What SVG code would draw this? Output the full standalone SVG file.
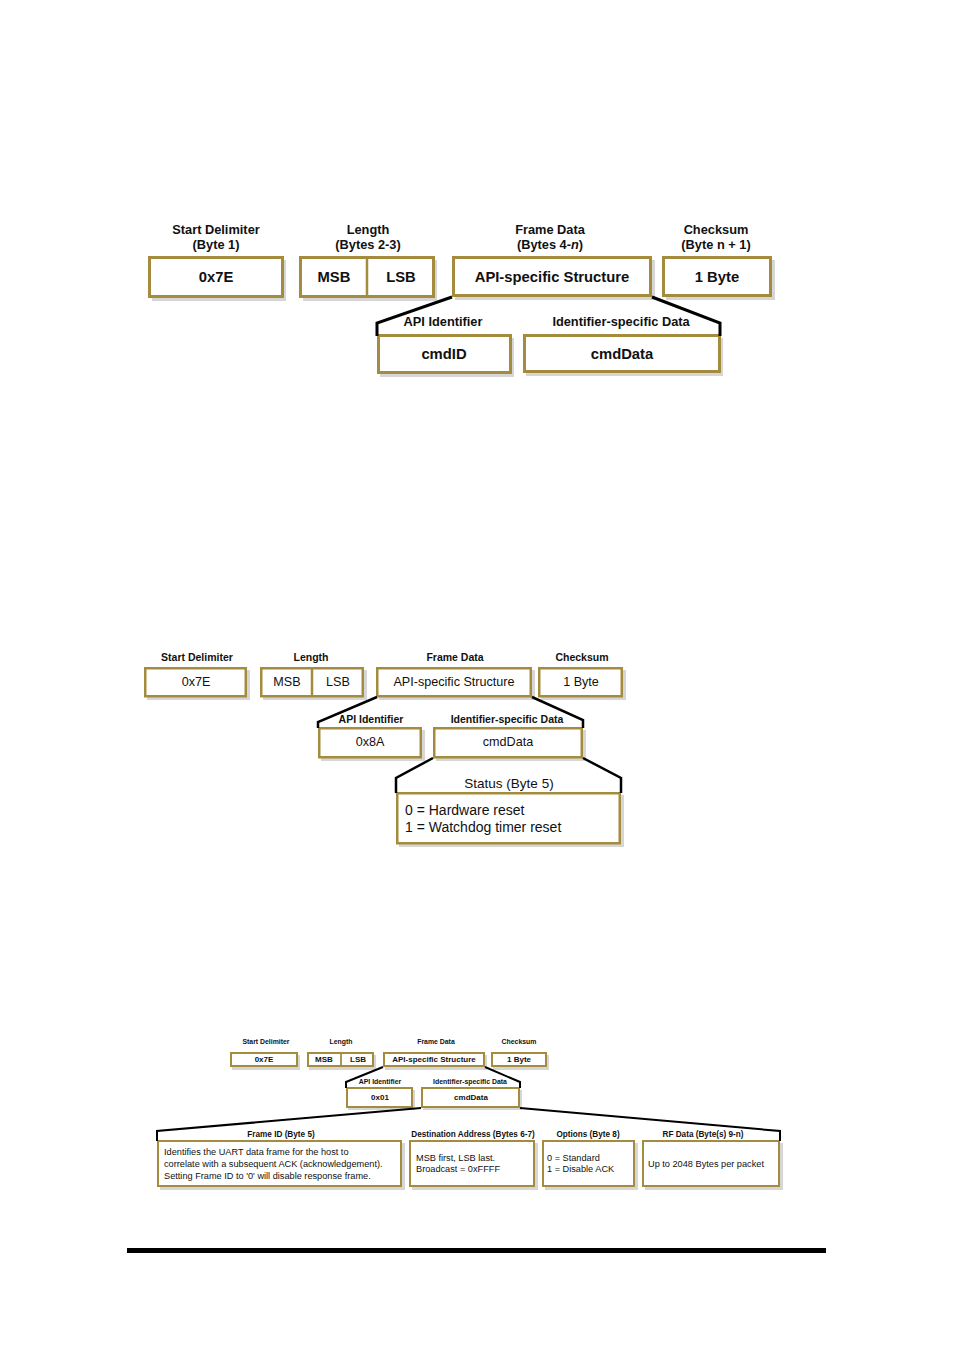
<svg xmlns="http://www.w3.org/2000/svg" width="953" height="1352" viewBox="0 0 953 1352">
<style>
.bg{fill:#fff}
.sh{fill:#d6d6d6}
.b1{fill:#fff;stroke:#a48b3e;stroke-width:3}
.b2{fill:#fff;stroke:#a48b3e;stroke-width:2.5}
.b3{fill:#fff;stroke:#a48b3e;stroke-width:2}
.d1{stroke:#a48b3e;stroke-width:2.5}
.d3{stroke:#a48b3e;stroke-width:1.8}
.c1{fill:none;stroke:#000;stroke-width:3}
.c2{fill:none;stroke:#000;stroke-width:2.5}
.c3{fill:none;stroke:#000;stroke-width:2}
text{font-family:"Liberation Sans",Arial,sans-serif;fill:#111}
.l1{font-size:12.8px;font-weight:bold;text-anchor:middle}
.t1{font-size:14.8px;font-weight:bold;text-anchor:middle}
.l2{font-size:10.5px;font-weight:bold;text-anchor:middle}
.t2{font-size:12.6px;text-anchor:middle}
.s2{font-size:13.5px;text-anchor:middle}
.p2{font-size:14px}
.l3{font-size:6.9px;font-weight:bold;text-anchor:middle}
.t3{font-size:8px;font-weight:bold;text-anchor:middle}
.f3{font-size:8.2px;font-weight:bold;text-anchor:middle}
.p3{font-size:9.2px}
</style>
<rect class="bg" x="0" y="0" width="953" height="1352"/>

<!-- Diagram 1 -->
<g id="d1-start">
<rect class="sh" x="152" y="260" width="134" height="41"/>
<rect class="b1" x="149.5" y="257.5" width="133" height="39"/>
<text class="l1" x="216" y="234">Start Delimiter</text>
<text class="l1" x="216" y="249">(Byte 1)</text>
<text class="t1" x="216" y="282">0x7E</text>
</g>
<g id="d1-length">
<rect class="sh" x="303" y="260" width="134" height="41"/>
<rect class="b1" x="300.5" y="257.5" width="133" height="39"/>
<line class="d1" x1="367" y1="257" x2="367" y2="297"/>
<text class="l1" x="368" y="234">Length</text>
<text class="l1" x="368" y="249">(Bytes 2-3)</text>
<text class="t1" x="334" y="282">MSB</text>
<text class="t1" x="401" y="282">LSB</text>
</g>
<g id="d1-frame">
<rect class="sh" x="455" y="260" width="200" height="40"/>
<rect class="b1" x="453.5" y="257.5" width="197" height="38"/>
<text class="l1" x="550" y="234">Frame Data</text>
<text class="l1" x="550" y="249">(Bytes 4-<tspan font-style="italic">n</tspan>)</text>
<text class="t1" x="552" y="282">API-specific Structure</text>
</g>
<g id="d1-checksum">
<rect class="sh" x="666" y="260" width="109" height="40"/>
<rect class="b1" x="663.5" y="257.5" width="107" height="38"/>
<text class="l1" x="716" y="234">Checksum</text>
<text class="l1" x="716" y="249">(Byte n + 1)</text>
<text class="t1" x="717" y="282">1 Byte</text>
</g>
<g id="d1-apiid">
<rect class="sh" x="380" y="338" width="134" height="39"/>
<rect class="b1" x="378.5" y="335.5" width="132" height="37"/>
<text class="l1" x="443" y="326">API Identifier</text>
<text class="t1" x="444" y="359">cmdID</text>
</g>
<g id="d1-data">
<rect class="sh" x="526" y="338" width="197" height="38"/>
<rect class="b1" x="524.5" y="335.5" width="195" height="36"/>
<text class="l1" x="621" y="326">Identifier-specific Data</text>
<text class="t1" x="622" y="359">cmdData</text>
</g>

<!-- Diagram 2 -->
<g id="d2-start">
<rect class="sh" x="147" y="670" width="103" height="30"/>
<rect class="b2" x="145.25" y="668.25" width="100.5" height="28"/>
<text class="l2" x="197" y="661">Start Delimiter</text>
<text class="t2" x="196" y="686">0x7E</text>
</g>
<g id="d2-length">
<rect class="sh" x="263" y="670" width="104" height="30"/>
<rect class="b2" x="261.25" y="668.25" width="101.5" height="28"/>
<line class="d1" x1="312" y1="668" x2="312" y2="697"/>
<text class="l2" x="311" y="661">Length</text>
<text class="t2" x="287" y="686">MSB</text>
<text class="t2" x="338" y="686">LSB</text>
</g>
<g id="d2-frame">
<rect class="sh" x="379" y="670" width="156" height="30"/>
<rect class="b2" x="377.25" y="668.25" width="153.5" height="28"/>
<text class="l2" x="455" y="661">Frame Data</text>
<text class="t2" x="454" y="686">API-specific Structure</text>
</g>
<g id="d2-checksum">
<rect class="sh" x="541" y="670" width="85" height="30"/>
<rect class="b2" x="539.25" y="668.25" width="82.5" height="28"/>
<text class="l2" x="582" y="661">Checksum</text>
<text class="t2" x="581" y="686">1 Byte</text>
</g>
<g id="d2-apiid">
<rect class="sh" x="321" y="730" width="104" height="31"/>
<rect class="b2" x="319.25" y="728.25" width="101.5" height="29"/>
<text class="l2" x="371" y="723">API Identifier</text>
<text class="t2" x="370" y="746">0x8A</text>
</g>
<g id="d2-data">
<rect class="sh" x="436" y="730" width="150" height="31"/>
<rect class="b2" x="434.25" y="728.25" width="147.5" height="29"/>
<text class="l2" x="507" y="723">Identifier-specific Data</text>
<text class="t2" x="508" y="746">cmdData</text>
</g>
<g id="d2-status">
<rect class="sh" x="399" y="795" width="225" height="52"/>
<rect class="b2" x="397.25" y="793.25" width="222.5" height="50"/>
<text class="s2" x="509" y="788">Status (Byte 5)</text>
<text class="p2" x="405" y="815">0 = Hardware reset</text>
<text class="p2" x="405" y="832">1 = Watchdog timer reset</text>
</g>

<!-- Diagram 3 -->
<g id="d3-start">
<rect class="sh" x="232" y="1055" width="68" height="15"/>
<rect class="b3" x="231" y="1053" width="66" height="13"/>
<text class="l3" x="266" y="1044">Start Delimiter</text>
<text class="t3" x="264" y="1062">0x7E</text>
</g>
<g id="d3-length">
<rect class="sh" x="309" y="1055" width="67" height="15"/>
<rect class="b3" x="308" y="1053" width="65" height="13"/>
<line class="d3" x1="341" y1="1053" x2="341" y2="1066"/>
<text class="l3" x="341" y="1044">Length</text>
<text class="t3" x="324" y="1062">MSB</text>
<text class="t3" x="358" y="1062">LSB</text>
</g>
<g id="d3-frame">
<rect class="sh" x="385" y="1055" width="102" height="15"/>
<rect class="b3" x="384" y="1053" width="100" height="13"/>
<text class="l3" x="436" y="1044">Frame Data</text>
<text class="t3" x="434" y="1062">API-specific Structure</text>
</g>
<g id="d3-checksum">
<rect class="sh" x="493" y="1055" width="56" height="15"/>
<rect class="b3" x="492" y="1053" width="54" height="13"/>
<text class="l3" x="519" y="1044">Checksum</text>
<text class="t3" x="519" y="1062">1 Byte</text>
</g>
<g id="d3-apiid">
<rect class="sh" x="348" y="1090" width="67" height="20"/>
<rect class="b3" x="347" y="1088" width="65" height="19"/>
<text class="l3" x="380" y="1084">API Identifier</text>
<text class="t3" x="380" y="1100">0x01</text>
</g>
<g id="d3-data">
<rect class="sh" x="423" y="1090" width="99" height="20"/>
<rect class="b3" x="422" y="1088" width="97" height="19"/>
<text class="l3" x="470" y="1084">Identifier-specific Data</text>
<text class="t3" x="471" y="1100">cmdData</text>
</g>
<g id="d3-frameid">
<rect class="sh" x="160" y="1143" width="245" height="47"/>
<rect class="b3" x="158" y="1141" width="243" height="45"/>
<text class="f3" x="281" y="1137">Frame ID (Byte 5)</text>
<text class="p3" x="164" y="1155">Identifies the UART data frame for the host to</text>
<text class="p3" x="164" y="1167">correlate with a subsequent ACK (acknowledgement).</text>
<text class="p3" x="164" y="1179">Setting Frame ID to '0' will disable response frame.</text>
</g>
<g id="d3-dest">
<rect class="sh" x="412" y="1143" width="126" height="47"/>
<rect class="b3" x="410" y="1141" width="124" height="45"/>
<text class="f3" x="473" y="1137">Destination Address (Bytes 6-7)</text>
<text class="p3" x="416" y="1161">MSB first, LSB last.</text>
<text class="p3" x="416" y="1172">Broadcast = 0xFFFF</text>
</g>
<g id="d3-options">
<rect class="sh" x="545" y="1143" width="93" height="47"/>
<rect class="b3" x="543" y="1141" width="91" height="45"/>
<text class="f3" x="588" y="1137">Options (Byte 8)</text>
<text class="p3" x="547" y="1161">0 = Standard</text>
<text class="p3" x="547" y="1172">1 = Disable ACK</text>
</g>
<g id="d3-rfdata">
<rect class="sh" x="645" y="1143" width="138" height="47"/>
<rect class="b3" x="643" y="1141" width="136" height="45"/>
<text class="f3" x="703" y="1137">RF Data (Byte(s) 9-n)</text>
<text class="p3" x="648" y="1167">Up to 2048 Bytes per packet</text>
</g>

<!-- Connectors -->
<g id="connectors">
<polyline class="c1" points="452,297 377,323 377,336"/>
<polyline class="c1" points="652,297 720,323 720,336"/>
<polyline class="c2" points="377,697 318,722 318,728"/>
<polyline class="c2" points="532,697 583,720 583,728"/>
<polyline class="c2" points="433,758 396,778 396,793"/>
<polyline class="c2" points="583,758 621,778 621,793"/>
<polyline class="c3" points="383,1067 346,1082 346,1088"/>
<polyline class="c3" points="485,1067 520,1082 520,1088"/>
<polyline class="c3" points="421,1108 157,1131 157,1141"/>
<polyline class="c3" points="520,1108 780,1131 780,1141"/>
</g>

<rect id="rule" x="127" y="1248" width="699" height="5" fill="#000"/>
</svg>
